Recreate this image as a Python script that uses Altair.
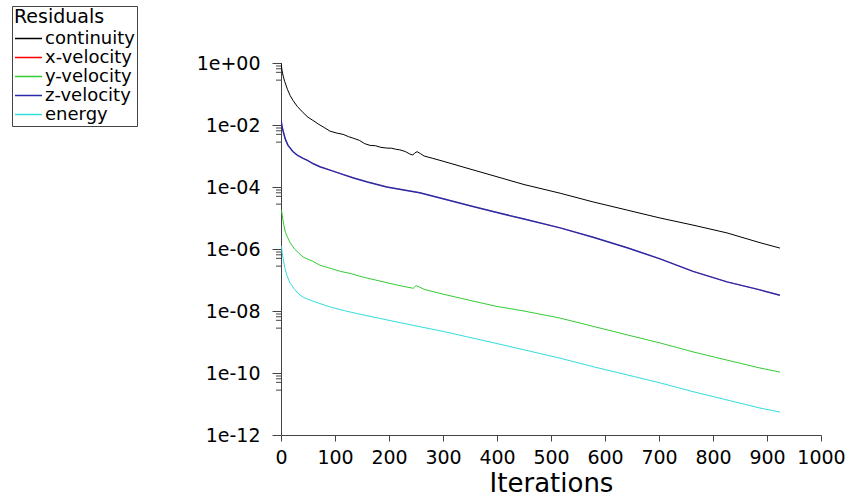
import altair as alt
import pandas as pd

series_names = ["continuity", "x-velocity", "y-velocity", "z-velocity", "energy"]
series_colors = ["#000000", "#ff0000", "#33cc33", "#2a2aa8", "#33dddd"]
series_widths = [1.0, 0.5, 1.0, 1.5, 1.0]

continuity_iter = [0, 2, 4, 7, 12, 17, 22, 30, 41, 50, 59, 70, 80, 91, 105, 115, 125, 133, 145,
                   155, 165, 175, 185, 196, 205, 212, 220, 230, 238, 244, 248, 252, 258, 265,
                   280, 300, 350, 400, 450, 517, 578, 641, 702, 763, 826, 887, 924]
continuity_val = [1.0, 0.56, 0.38, 0.25, 0.14, 0.089, 0.063, 0.040, 0.025, 0.0178, 0.0141, 0.0105,
                  0.0083, 0.0063, 0.0054, 0.0050, 0.0042, 0.0038, 0.0032, 0.0025, 0.0022, 0.00214,
                  0.0019, 0.0018, 0.00178, 0.00166, 0.00158, 0.0014, 0.00117, 0.00107, 0.00126,
                  0.00138, 0.0012, 0.0010, 8.5e-4, 6.8e-4, 3.8e-4, 2.14e-4, 1.2e-4, 6.3e-5, 3.3e-5,
                  1.8e-5, 1.0e-5, 5.9e-6, 3.3e-6, 1.6e-6, 1.07e-6]

zvel_iter = [0, 2, 4, 8, 13, 22, 30, 40, 48, 60, 72, 91, 110, 133, 160, 196, 230, 257, 300, 350,
             400, 450, 517, 578, 641, 702, 763, 826, 887, 924]
zvel_val = [0.0145, 0.0089, 0.0063, 0.0035, 0.0022, 0.0014, 0.00107, 8.5e-4, 7.4e-4, 5.6e-4,
            4.5e-4, 3.5e-4, 2.7e-4, 2.0e-4, 1.45e-4, 1.0e-4, 7.9e-5, 6.5e-5, 4.2e-5, 2.5e-5,
            1.5e-5, 9.3e-6, 4.8e-6, 2.4e-6, 1.1e-6, 4.8e-7, 1.9e-7, 8.7e-8, 4.8e-8, 3.2e-8]

# x-velocity lies underneath z-velocity in the reference
xvel_iter = list(zvel_iter)
xvel_val = list(zvel_val)

yvel_iter = [1, 3, 5, 8, 12, 17, 25, 33, 41, 59, 72, 91, 110, 130, 150, 175, 200, 225, 245, 250,
             256, 265, 300, 350, 400, 450, 517, 578, 641, 702, 763, 826, 887, 924]
yvel_val = [1.8e-5, 1.0e-5, 6.3e-6, 3.5e-6, 2.4e-6, 1.6e-6, 1.0e-6, 7.4e-7, 5.5e-7, 4.0e-7, 3.0e-7,
            2.4e-7, 1.9e-7, 1.6e-7, 1.26e-7, 1.0e-7, 7.9e-8, 6.3e-8, 5.4e-8, 6.6e-8, 6.0e-8, 5.0e-8,
            3.5e-8, 2.2e-8, 1.4e-8, 1.0e-8, 5.9e-9, 3.2e-9, 1.7e-9, 9.3e-10, 4.8e-10, 2.6e-10,
            1.45e-10, 1.07e-10]

energy_iter = [1, 2, 4, 7, 11, 17, 25, 33, 41, 55, 72, 91, 120, 150, 200, 250, 300, 350, 400, 450,
               517, 578, 641, 702, 763, 826, 887, 924]
energy_val = [1.26e-6, 7.9e-7, 5.0e-7, 2.5e-7, 1.4e-7, 7.9e-8, 5.0e-8, 3.5e-8, 2.8e-8, 2.2e-8,
              1.74e-8, 1.35e-8, 1.0e-8, 7.6e-9, 5.0e-9, 3.3e-9, 2.2e-9, 1.4e-9, 8.9e-10, 5.6e-10,
              3.0e-10, 1.6e-10, 8.7e-11, 4.8e-11, 2.5e-11, 1.35e-11, 7.4e-12, 5.5e-12]

x_ticks = [0, 100, 200, 300, 400, 500, 600, 700, 800, 900, 1000]
y_ticks = [1, 1e-2, 1e-4, 1e-6, 1e-8, 1e-10, 1e-12]
y_minor_ticks = [m * t for t in y_ticks[:-1] for m in (0.8, 0.65, 0.5, 0.28)]

series_data = {
    "continuity": (continuity_iter, continuity_val),
    "x-velocity": (xvel_iter, xvel_val),
    "y-velocity": (yvel_iter, yvel_val),
    "z-velocity": (zvel_iter, zvel_val),
    "energy": (energy_iter, energy_val),
}

FONT = "DejaVu Sans"
AXIS_GREY = "#444444"

color = alt.Color(
    "series:N",
    scale=alt.Scale(domain=series_names, range=series_colors),
    sort=series_names,
    legend=alt.Legend(
        orient="none", legendX=12 - 281, legendY=6 - 63,
        title="Residuals", titleFont=FONT, titleFontSize=19, titleFontWeight="normal",
        titleColor="black", titlePadding=3,
        labelFont=FONT, labelFontSize=18, labelColor="black", labelOffset=2,
        symbolType="stroke", symbolSize=729, symbolStrokeWidth=1.5,
        strokeColor=AXIS_GREY, padding=2, rowPadding=0, clipHeight=17,
    ),
)

x_enc = alt.X(
    "iter:Q",
    scale=alt.Scale(domain=[0, 1000], nice=False),
    axis=alt.Axis(values=x_ticks, format="d", title="Iterations", grid=False, tickSize=6,
                  labelFont=FONT, labelFontSize=19, labelColor="black", labelPadding=7,
                  titleFont=FONT, titleFontSize=26, titleFontWeight="normal",
                  titleColor="black", titlePadding=3,
                  domainColor=AXIS_GREY, tickColor=AXIS_GREY, labelFlush=False),
)
y_enc = alt.Y(
    "res:Q",
    scale=alt.Scale(type="log", domain=[1e-12, 1], nice=False),
    axis=alt.Axis(values=y_ticks, title=None, grid=False, tickSize=9,
                  labelFont=FONT, labelFontSize=19, labelColor="black", labelPadding=12,
                  domainColor=AXIS_GREY, tickColor=AXIS_GREY, labelFlush=False,
                  labelExpr="'1e' + (round(log(datum.value)/LN10) < 0 ? '-' : '+') + "
                            "(abs(round(log(datum.value)/LN10)) < 10 ? '0' : '') + "
                            "abs(round(log(datum.value)/LN10))"),
)

layers = []
for name, w in zip(series_names, series_widths):
    its, vals = series_data[name]
    df = pd.DataFrame({"iter": its, "res": vals, "series": name})
    layers.append(
        alt.Chart(df).mark_line(strokeWidth=w, clip=True).encode(x=x_enc, y=y_enc, color=color)
    )

minor_df = pd.DataFrame({"res": y_minor_ticks})
minor = alt.Chart(minor_df).mark_rule(color=AXIS_GREY, strokeWidth=1).encode(
    y=alt.Y("res:Q"), x=alt.value(-5), x2=alt.value(0)
)

chart = alt.layer(minor, *layers).properties(
    width=540, height=372,
    padding={"left": 281, "top": 63, "right": 27, "bottom": 67},
    autosize=alt.AutoSizeParams(type="none"),
    background="white",
).configure_view(stroke=None)

chart.save("out.html", embed_options={"renderer": "svg", "actions": False})
